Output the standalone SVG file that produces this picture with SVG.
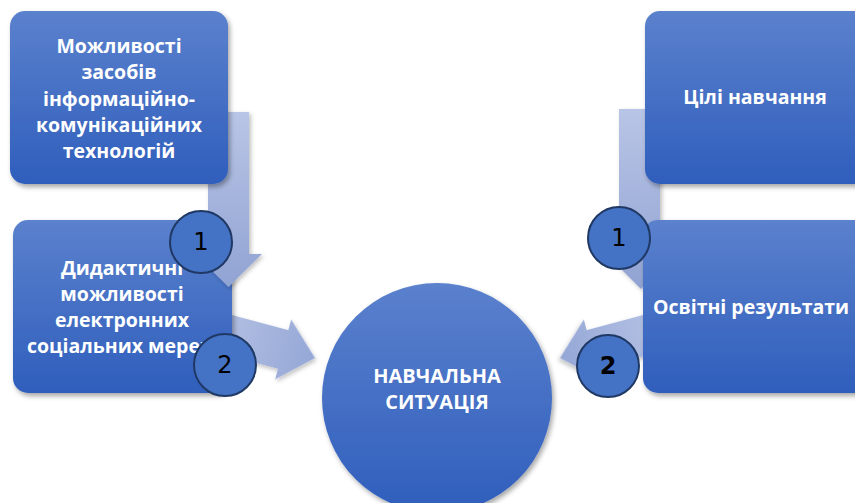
<svg xmlns="http://www.w3.org/2000/svg" width="855" height="503" viewBox="0 0 855 503">
<defs>
<linearGradient id="gBox" x1="0" y1="0" x2="0" y2="1">
<stop offset="0" stop-color="#5B81CD"/>
<stop offset="1" stop-color="#2F5EBC"/>
</linearGradient>
<linearGradient id="gArrV" x1="0" y1="0" x2="0" y2="1">
<stop offset="0" stop-color="#B9C5E6"/>
<stop offset="1" stop-color="#91A3D3"/>
</linearGradient>
<linearGradient id="gArrH" x1="-120" y1="0" x2="0" y2="0" gradientUnits="userSpaceOnUse">
<stop offset="0" stop-color="#B9C5E6"/>
<stop offset="1" stop-color="#95A7D6"/>
</linearGradient>
<filter id="sh" x="-20%" y="-20%" width="140%" height="140%">
<feDropShadow dx="2" dy="3" stdDeviation="2.5" flood-color="#000" flood-opacity="0.35"/>
</filter>
<filter id="sha" x="-20%" y="-20%" width="140%" height="140%">
<feDropShadow dx="2" dy="2" stdDeviation="2" flood-color="#000" flood-opacity="0.25"/>
</filter>
</defs>
<style>
.box{fill:url(#gBox);filter:url(#sh)}
.arrV{fill:url(#gArrV);filter:url(#sha)}
.arrH{fill:url(#gArrH);filter:url(#sha)}
.t{font-family:"Open Sans","Liberation Sans",sans-serif;font-weight:bold;font-size:19.5px;fill:#fff;text-anchor:middle}
.tc{font-family:"Open Sans","Liberation Sans",sans-serif;font-weight:bold;font-size:20px;fill:#fff;text-anchor:middle}
.num{fill:#4472C4;stroke:#1F3864;stroke-width:2}
.n{font-family:"DejaVu Sans","Liberation Sans",sans-serif;font-size:24px;fill:#000;text-anchor:middle}
.nb{font-weight:bold}
</style>
<g id="connectors">
<polygon id="arrow-left-2" class="arrH" transform="translate(315,358) rotate(15)" points="0,0 -33,31 -33,20 -120,20 -120,-20 -33,-20 -33,-31"/>
<polygon id="arrow-right-2" class="arrH" transform="translate(560,358) scale(-1,1) rotate(15)" points="0,0 -33,31 -33,20 -120,20 -120,-20 -33,-20 -33,-31"/>
<polygon id="arrow-right-1" class="arrV" points="619,109 660,109 660,254 673,254 641,289 606,254 619,254"/>
</g>
<g id="node-didactic">
<rect class="box" x="13" y="220" width="219" height="173" rx="15"/>
<text class="t" x="122" y="275">Дидактичні</text>
<text class="t" x="122" y="301">можливості</text>
<text class="t" x="122" y="327">електронних</text>
<text class="t" x="122" y="353">соціальних мереж</text>
</g>
<g id="connector-left-1">
<polygon id="arrow-left-1" class="arrV" points="208,112 249,112 249,254 262,254 228.5,287 195,254 208,254"/>
</g>
<g id="node-ict">
<rect class="box" x="10" y="11" width="218" height="173" rx="15"/>
<text class="t" x="119" y="53">Можливості</text>
<text class="t" x="119" y="79">засобів</text>
<text class="t" x="119" y="106">інформаційно-</text>
<text class="t" x="119" y="132">комунікаційних</text>
<text class="t" x="119" y="158">технологій</text>
</g>
<g id="node-goals">
<rect class="box" x="645" y="11" width="225" height="173" rx="15"/>
<text class="t" x="755" y="104">Цілі навчання</text>
</g>
<g id="node-results">
<rect class="box" x="643" y="220" width="227" height="173" rx="15"/>
<text class="t" x="751" y="314">Освітні результати</text>
</g>
<g id="node-situation">
<circle class="box" cx="437" cy="398" r="115"/>
<text class="tc" x="437" y="383">НАВЧАЛЬНА</text>
<text class="tc" x="437" y="409">СИТУАЦІЯ</text>
</g>
<g id="badge-left-1">
<circle class="num" cx="201" cy="242" r="31"/>
<text class="n" x="201" y="250">1</text>
</g>
<g id="badge-left-2">
<circle class="num" cx="225" cy="365" r="31"/>
<text class="n" x="225" y="373">2</text>
</g>
<g id="badge-right-1">
<circle class="num" cx="619" cy="238" r="31"/>
<text class="n" x="619" y="246">1</text>
</g>
<g id="badge-right-2">
<circle class="num" cx="608" cy="366" r="31"/>
<text class="n nb" x="608" y="374">2</text>
</g>
</svg>
